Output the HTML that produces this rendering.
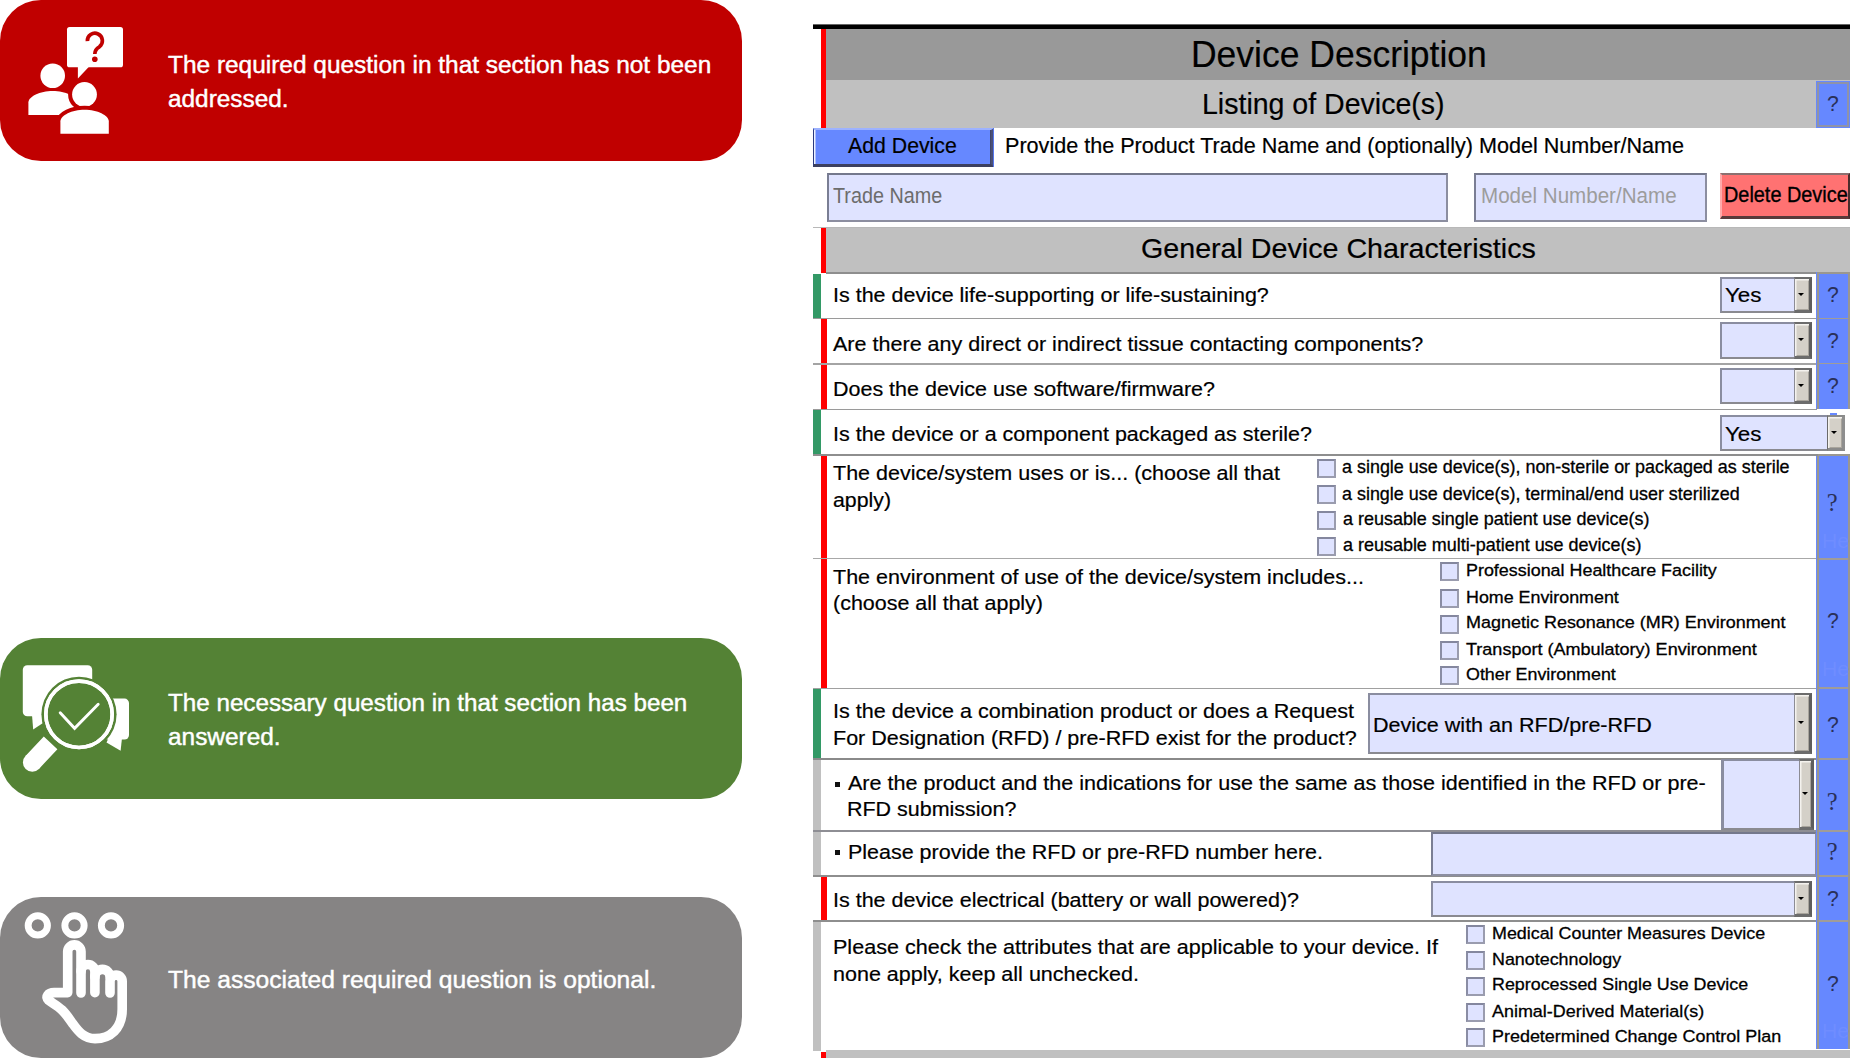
<!DOCTYPE html>
<html><head><meta charset="utf-8"><title>Device Description</title>
<style>
html,body{margin:0;padding:0;background:#fff;}
body{width:1875px;height:1058px;position:relative;overflow:hidden;font-family:"Liberation Sans",sans-serif;}
.a{position:absolute;box-sizing:border-box;}
.t{position:absolute;white-space:pre;line-height:1em;transform-origin:0 50%;}
.box{position:absolute;left:0;width:742px;border-radius:41px;}
.fld{position:absolute;box-sizing:border-box;background:#dfe3ff;border:2px solid #8c8ea0;border-top-color:#74788c;border-left-color:#7a7e94;}
.dd{position:absolute;box-sizing:border-box;background:#dfe3ff;border:2px solid #8a8a90;border-top-color:#8a8da0;border-left-color:#8a8da0;}
.btn{position:absolute;box-sizing:border-box;top:-2px;bottom:-2px;right:-2px;width:18px;background:#d4d0c8;border-style:solid;border-color:#6c6c6c #5e5e5e #6c6c6c #8c8c94;border-width:2px 3px 3px 1px;box-shadow:inset 1.5px 1.5px 0 #f4f2ee,inset -1px -1px 0 #a8a49c;}
.btn:after{content:"";position:absolute;left:50%;top:50%;margin-left:-3.8px;margin-top:-1.6px;border-left:3.8px solid transparent;border-right:3.8px solid transparent;border-top:3.8px solid #000;}
.cb{position:absolute;box-sizing:border-box;width:19px;height:19px;background:#dfe3ff;border:2px solid #9a9cae;border-top-color:#84879e;border-left-color:#8a8da4;}
.ln{position:absolute;left:813px;width:1003px;height:1px;background:#9a9a9a;}
.q{position:absolute;left:1816px;width:34px;text-align:center;color:#232a52;font-size:21px;line-height:1em;}
.qs{font-family:"Liberation Serif",serif;font-size:24px;}
.hs{position:absolute;left:1819px;width:29px;height:1px;background:#a09c98;}
</style></head>
<body>
<!-- left callouts -->
<div class="box" style="top:0;height:160.5px;background:#c00000"></div>
<div class="box" style="top:637.6px;height:161px;background:#548235"></div>
<div class="box" style="top:897.3px;height:161px;background:#868484"></div>

<svg class="a" style="left:0;top:0" width="760" height="1058" viewBox="0 0 760 1058">
<!-- red icon -->
<g fill="#fff">
 <rect x="67" y="27" width="56" height="40.3" rx="2.6"/>
 <path d="M77.9 66 V78.4 L89.6 66 Z"/>
 <circle cx="52.7" cy="75.7" r="12.3"/>
 <path d="M28.4 115 V102.5 C28.4 96.5 40 91 52.7 91 C65.4 91 77 96.5 77 102.5 V115 Z"/>
 <g stroke="#c00000" stroke-width="8" paint-order="stroke">
  <circle cx="84.5" cy="94.4" r="12.4"/>
  <path d="M60.4 133.8 V121.3 C60.4 115.3 72 109.7 84.6 109.7 C97.2 109.7 108.8 115.3 108.8 121.3 V133.8 Z"/>
 </g>
</g>
<path d="M87.4 41.2 A7.5 7.5 0 1 1 99.4 46.8 Q94.8 49.4 94.8 54" fill="none" stroke="#c00000" stroke-width="3.7"/>
<circle cx="94.8" cy="59.2" r="2.8" fill="#c00000"/>

<!-- green icon -->
<g fill="#fff">
 <rect x="22.8" y="665.2" width="69.4" height="51" rx="4.5"/>
 <path d="M32 715 L33.2 729.6 L46 721 V715 Z"/>
 <rect x="98" y="698.6" width="31" height="41" rx="4.5"/>
 <path d="M106.5 742.5 L120.6 750.8 L122 738 L110 735 Z"/>
</g>
<circle cx="79" cy="714.3" r="37.6" fill="#548235"/>
<circle cx="79" cy="714.3" r="33.2" fill="#548235" stroke="#fff" stroke-width="3.6"/>
<path d="M60.2 712.8 L74.6 728.3 L98.2 704.2" fill="none" stroke="#fff" stroke-width="2.9" stroke-linecap="round" stroke-linejoin="miter"/>
<path d="M50.6 742.8 L36.5 757.9 L32.3 762.4" fill="none" stroke="#fff" stroke-width="18.6" stroke-linecap="butt"/>
<circle cx="32.3" cy="762.4" r="9.4" fill="#fff"/>
<circle cx="79" cy="714.3" r="33.2" fill="none" stroke="#fff" stroke-width="3.6"/>

<!-- gray icon -->
<g fill="none" stroke="#fff">
 <g stroke-width="6.9">
  <circle cx="37.8" cy="925.4" r="9.65"/><circle cx="74.5" cy="925.4" r="9.65"/><circle cx="111" cy="925.4" r="9.65"/>
 </g>
 <g stroke-width="9.6" stroke-linecap="round" stroke-linejoin="round">
  <path d="M81 993 V951.55 A6.55 6.55 0 0 0 67.7 951.55 V992.6 H54 C48 992.6 45 997 48.5 1000.2 C53 1003.5 58 1006 62 1010 C67 1015 70 1020 73 1024 C78 1031 84 1038.6 95 1038.6 C110 1038.6 122.2 1029 122.2 1009 V981.2 A6.1 6.1 0 0 0 110 981.2 V993"/>
  <path d="M81 971.45 A6.95 6.95 0 0 1 94.9 971.45 V992.7"/>
  <path d="M94.9 976.95 A7.55 7.55 0 0 1 110 976.95"/>
 </g>
</g>
</svg>

<!-- form -->
<div class="a" style="left:813px;top:24px;width:1037px;height:5px;background:#000;border-top:1px solid #666"></div>
<div class="a" style="left:826px;top:29px;width:1024px;height:52px;background:#999999"></div>
<div class="a" style="left:826px;top:80px;width:1024px;height:48px;background:#c0c0c0"></div>
<div class="a" style="left:821px;top:29px;width:5px;height:99px;background:#ff0000"></div>
<!-- help btn header -->
<div class="a" style="left:1816px;top:81px;width:34px;height:47px;background:#6688ff;border:1px solid #6688ff;box-shadow:inset 0 0 0 2px #8f93a8"></div>

<!-- add device -->
<div class="a" style="left:813px;top:128px;width:181px;height:39px;background:#6688ff;border-style:solid;border-width:2px 3px 3px 1px;border-color:#9db2ff #4a5078 #3c4060 #2a3a80;box-shadow:inset 1.5px 0 0 #eef2ff,inset -1px 0 0 #40466a"></div><div class="a" style="left:993px;top:128px;width:1px;height:39px;background:#5577ee"></div>
<div class="fld" style="left:827px;top:173px;width:621px;height:49px"></div>
<div class="fld" style="left:1474px;top:173px;width:233px;height:49px"></div>
<div class="a" style="left:1720px;top:173px;width:130px;height:46px;background:#ff7272;border-style:solid;border-width:2px 2px 3px 2px;border-color:#8c7070 #4a2c2c #5a3a3a #ffaaaa"></div>

<div class="a" style="left:813px;top:227px;width:1037px;height:1px;background:#b8b8b8"></div>
<div class="a" style="left:826px;top:228px;width:1024px;height:46px;background:#c0c0c0;border-bottom:2px solid #8e8e8e"></div>
<div class="a" style="left:821px;top:228px;width:5px;height:45px;background:#ff0000"></div>

<!-- left status bars -->
<div class="a" style="left:813px;top:274px;width:8px;height:45px;background:#339966"></div>
<div class="a" style="left:821px;top:319px;width:6px;height:136px;background:#ff0000"></div>
<div class="a" style="left:813px;top:409px;width:8px;height:46px;background:#339966"></div>
<div class="a" style="left:821px;top:409px;width:6px;height:46px;background:#fff"></div>
<div class="a" style="left:821px;top:455px;width:6px;height:233px;background:#ff0000"></div>
<div class="a" style="left:813px;top:688px;width:8px;height:71px;background:#339966"></div>
<div class="a" style="left:813px;top:759px;width:8px;height:117px;background:#c0c0c0"></div>
<div class="a" style="left:821px;top:876px;width:6px;height:45px;background:#ff0000"></div>
<div class="a" style="left:813px;top:921px;width:8px;height:130px;background:#c0c0c0"></div>
<div class="a" style="left:826px;top:1050px;width:1024px;height:8px;background:#c0c0c0"></div>
<div class="a" style="left:821px;top:1052px;width:5px;height:6px;background:#ff0000"></div>

<!-- help column -->
<div class="a" style="left:1817px;top:272px;width:33px;height:137px;background:#6688ff;border-left:2px solid #9a9790;border-right:2px solid #9a9790;border-top:2px solid #9a9790;box-shadow:-1px 0 0 #6688ff"></div>
<div class="a" style="left:1817px;top:454px;width:33px;height:595px;background:#6688ff;border-left:2px solid #9a9790;border-right:2px solid #9a9790;border-top:2px solid #9a9790;box-shadow:-1px 0 0 #6688ff"></div>
<div class="a" style="left:1830px;top:413px;width:7px;height:2px;background:#6688ff"></div>

<!-- row lines -->
<div class="ln" style="top:318px"></div>
<div class="ln" style="top:363px;height:2px;background:#a4a4a4"></div>
<div class="ln" style="top:409px;width:1004px"></div>
<div class="ln" style="top:454px;height:2px;width:1005px;background:#8e8e8e"></div>
<div class="ln" style="top:558px;background:#a8a8a8"></div>
<div class="ln" style="top:688px;background:#a0a0a0"></div>
<div class="ln" style="top:758px;height:2px;background:#8a8a8a"></div>
<div class="ln" style="top:830px;height:2px;background:#8e8e94"></div>
<div class="ln" style="top:875px;height:2px;background:#8e8e8e"></div>
<div class="ln" style="top:920px;height:2px;background:#8e8e8e"></div>
<div class="hs" style="top:318px"></div><div class="hs" style="top:363px"></div>
<div class="hs" style="top:558px;height:2px"></div><div class="hs" style="top:687px;height:2px"></div><div class="hs" style="top:758px;height:2px"></div>
<div class="hs" style="top:830px;height:2px"></div><div class="hs" style="top:875px;height:2px"></div><div class="hs" style="top:920px;height:2px"></div>

<!-- dropdowns -->
<div class="dd" style="left:1720px;top:277px;width:92px;height:36px"><div class="btn"></div></div>
<div class="dd" style="left:1720px;top:322px;width:92px;height:37px"><div class="btn"></div></div>
<div class="dd" style="left:1720px;top:368px;width:92px;height:36px"><div class="btn"></div></div>
<div class="dd" style="left:1720px;top:415px;width:125px;height:36px"><div class="btn" style="width:18px;border-color:#8a8a8a #8e8e8e #8a8a8a #6a6a6a"></div></div>
<div class="dd" style="left:1368px;top:693px;width:444px;height:61px"><div class="btn"></div></div>
<div class="dd" style="left:1721px;top:759px;width:93px;height:71px;border-left-width:3px"><div class="btn" style="width:15px"></div></div>
<div class="fld" style="left:1431px;top:832px;width:385px;height:44px;border-width:2px 1px 2px 2px"></div>
<div class="dd" style="left:1431px;top:881px;width:381px;height:36px"><div class="btn"></div></div>

<!-- checkboxes -->
<div class="cb" style="left:1317px;top:459px"></div><div class="cb" style="left:1317px;top:485px"></div><div class="cb" style="left:1317px;top:511px"></div><div class="cb" style="left:1317px;top:536.5px"></div>
<div class="cb" style="left:1439.5px;top:562.4px"></div><div class="cb" style="left:1439.5px;top:588.6px"></div><div class="cb" style="left:1439.5px;top:614.6px"></div><div class="cb" style="left:1439.5px;top:640.6px"></div><div class="cb" style="left:1439.5px;top:666px"></div>
<div class="cb" style="left:1466.4px;top:925px"></div><div class="cb" style="left:1466.4px;top:951px"></div><div class="cb" style="left:1466.4px;top:976.7px"></div><div class="cb" style="left:1466.4px;top:1002.6px"></div><div class="cb" style="left:1466.4px;top:1028px"></div>


<!-- bullets -->
<div class="a" style="left:835px;top:782px;width:5px;height:5px;background:#111"></div>
<div class="a" style="left:835px;top:849.5px;width:5px;height:5px;background:#111"></div>

<span class="t" style="left:168.2px;top:51px;font-size:24.7px;line-height:27px;transform:scaleX(0.9896);color:#fff;font-family:'Liberation Sans', sans-serif;-webkit-text-stroke:0.45px #fff;">The required question in that section has not been</span>
<span class="t" style="left:168.2px;top:85px;font-size:24.7px;line-height:27px;transform:scaleX(0.9873);color:#fff;font-family:'Liberation Sans', sans-serif;-webkit-text-stroke:0.45px #fff;">addressed.</span>
<span class="t" style="left:168.2px;top:689px;font-size:24.7px;line-height:27px;transform:scaleX(0.9803);color:#fff;font-family:'Liberation Sans', sans-serif;-webkit-text-stroke:0.45px #fff;">The necessary question in that section has been</span>
<span class="t" style="left:168.2px;top:723px;font-size:24.7px;line-height:27px;transform:scaleX(0.9885);color:#fff;font-family:'Liberation Sans', sans-serif;-webkit-text-stroke:0.45px #fff;">answered.</span>
<span class="t" style="left:168.2px;top:966px;font-size:24.7px;line-height:27px;transform:scaleX(0.9966);color:#fff;font-family:'Liberation Sans', sans-serif;-webkit-text-stroke:0.45px #fff;">The associated required question is optional.</span>
<span class="t" style="left:1190.5px;top:33px;font-size:37.4px;line-height:42px;transform:scaleX(0.9489);color:#000;font-family:'Liberation Sans', sans-serif;-webkit-text-stroke:0.2px #000;">Device Description</span>
<span class="t" style="left:1201.5px;top:88px;font-size:28.9px;line-height:32px;transform:scaleX(0.9872);color:#000;font-family:'Liberation Sans', sans-serif;-webkit-text-stroke:0.2px #000;">Listing of Device(s)</span>
<span class="t" style="left:1141.2px;top:233px;font-size:27.6px;line-height:31px;transform:scaleX(1.0381);color:#000;font-family:'Liberation Sans', sans-serif;-webkit-text-stroke:0.2px #000;">General Device Characteristics</span>
<span class="t" style="left:848.3px;top:133px;font-size:22.3px;line-height:25px;transform:scaleX(0.9541);color:#000;font-family:'Liberation Sans', sans-serif;-webkit-text-stroke:0.2px #000;">Add Device</span>
<span class="t" style="left:1005.4px;top:134px;font-size:21.45px;line-height:24px;transform:scaleX(1.0069);color:#000;font-family:'Liberation Sans', sans-serif;-webkit-text-stroke:0.2px #000;">Provide the Product Trade Name and (optionally) Model Number/Name</span>
<span class="t" style="left:833.3px;top:183px;font-size:21.6px;line-height:25px;transform:scaleX(0.9160);color:#6c6c6c;font-family:'Liberation Sans', sans-serif;">Trade Name</span>
<span class="t" style="left:1481.0px;top:183px;font-size:21.6px;line-height:25px;transform:scaleX(0.9531);color:#9c9c9c;font-family:'Liberation Sans', sans-serif;">Model Number/Name</span>
<span class="t" style="left:1723.5px;top:183px;font-size:21.5px;line-height:24px;transform:scaleX(0.9242);color:#000;font-family:'Liberation Sans', sans-serif;-webkit-text-stroke:0.35px #000;">Delete Device</span>
<span class="t" style="left:833.0px;top:283px;font-size:20.5px;line-height:23px;transform:scaleX(1.0478);color:#000;font-family:'Liberation Sans', sans-serif;-webkit-text-stroke:0.2px #000;">Is the device life-supporting or life-sustaining?</span>
<span class="t" style="left:832.5px;top:332px;font-size:20.5px;line-height:23px;transform:scaleX(1.0508);color:#000;font-family:'Liberation Sans', sans-serif;-webkit-text-stroke:0.2px #000;">Are there any direct or indirect tissue contacting components?</span>
<span class="t" style="left:833.0px;top:377px;font-size:20.5px;line-height:23px;transform:scaleX(1.0477);color:#000;font-family:'Liberation Sans', sans-serif;-webkit-text-stroke:0.2px #000;">Does the device use software/firmware?</span>
<span class="t" style="left:833.0px;top:422px;font-size:20.5px;line-height:23px;transform:scaleX(1.0482);color:#000;font-family:'Liberation Sans', sans-serif;-webkit-text-stroke:0.2px #000;">Is the device or a component packaged as sterile?</span>
<span class="t" style="left:833.0px;top:461px;font-size:20.5px;line-height:23px;transform:scaleX(1.0489);color:#000;font-family:'Liberation Sans', sans-serif;-webkit-text-stroke:0.2px #000;">The device/system uses or is... (choose all that</span>
<span class="t" style="left:833.0px;top:488px;font-size:20.5px;line-height:23px;transform:scaleX(1.0386);color:#000;font-family:'Liberation Sans', sans-serif;-webkit-text-stroke:0.2px #000;">apply)</span>
<span class="t" style="left:833.0px;top:565px;font-size:20.5px;line-height:23px;transform:scaleX(1.0495);color:#000;font-family:'Liberation Sans', sans-serif;-webkit-text-stroke:0.2px #000;">The environment of use of the device/system includes...</span>
<span class="t" style="left:833.0px;top:591px;font-size:20.5px;line-height:23px;transform:scaleX(1.0471);color:#000;font-family:'Liberation Sans', sans-serif;-webkit-text-stroke:0.2px #000;">(choose all that apply)</span>
<span class="t" style="left:833.0px;top:699px;font-size:20.5px;line-height:23px;transform:scaleX(1.0510);color:#000;font-family:'Liberation Sans', sans-serif;-webkit-text-stroke:0.2px #000;">Is the device a combination product or does a Request</span>
<span class="t" style="left:833.0px;top:726px;font-size:20.5px;line-height:23px;transform:scaleX(1.0497);color:#000;font-family:'Liberation Sans', sans-serif;-webkit-text-stroke:0.2px #000;">For Designation (RFD) / pre-RFD exist for the product?</span>
<span class="t" style="left:848.0px;top:771px;font-size:20.5px;line-height:23px;transform:scaleX(1.0513);color:#000;font-family:'Liberation Sans', sans-serif;-webkit-text-stroke:0.2px #000;">Are the product and the indications for use the same as those identified in the RFD or pre-</span>
<span class="t" style="left:846.6px;top:797px;font-size:20.5px;line-height:23px;transform:scaleX(1.0471);color:#000;font-family:'Liberation Sans', sans-serif;-webkit-text-stroke:0.2px #000;">RFD submission?</span>
<span class="t" style="left:848.0px;top:840px;font-size:20.5px;line-height:23px;transform:scaleX(1.0475);color:#000;font-family:'Liberation Sans', sans-serif;-webkit-text-stroke:0.2px #000;">Please provide the RFD or pre-RFD number here.</span>
<span class="t" style="left:833.0px;top:888px;font-size:20.5px;line-height:23px;transform:scaleX(1.0487);color:#000;font-family:'Liberation Sans', sans-serif;-webkit-text-stroke:0.2px #000;">Is the device electrical (battery or wall powered)?</span>
<span class="t" style="left:833.0px;top:935px;font-size:20.5px;line-height:23px;transform:scaleX(1.0513);color:#000;font-family:'Liberation Sans', sans-serif;-webkit-text-stroke:0.2px #000;">Please check the attributes that are applicable to your device. If</span>
<span class="t" style="left:833.0px;top:962px;font-size:20.5px;line-height:23px;transform:scaleX(1.0501);color:#000;font-family:'Liberation Sans', sans-serif;-webkit-text-stroke:0.2px #000;">none apply, keep all unchecked.</span>
<span class="t" style="left:1724.5px;top:284px;font-size:20px;line-height:22px;transform:scaleX(1.1182);color:#000;font-family:'Liberation Sans', sans-serif;-webkit-text-stroke:0.2px #000;">Yes</span>
<span class="t" style="left:1724.5px;top:423px;font-size:20px;line-height:22px;transform:scaleX(1.1182);color:#000;font-family:'Liberation Sans', sans-serif;-webkit-text-stroke:0.2px #000;">Yes</span>
<span class="t" style="left:1373.0px;top:713px;font-size:20.5px;line-height:23px;transform:scaleX(1.0504);color:#000;font-family:'Liberation Sans', sans-serif;-webkit-text-stroke:0.2px #000;">Device with an RFD/pre-RFD</span>
<span class="t" style="left:1342.4px;top:457px;font-size:17.8px;line-height:20px;transform:scaleX(1.0086);color:#000;font-family:'Liberation Sans', sans-serif;-webkit-text-stroke:0.3px #000;">a single use device(s), non-sterile or packaged as sterile</span>
<span class="t" style="left:1341.8px;top:484px;font-size:17.8px;line-height:20px;transform:scaleX(1.0083);color:#000;font-family:'Liberation Sans', sans-serif;-webkit-text-stroke:0.3px #000;">a single use device(s), terminal/end user sterilized</span>
<span class="t" style="left:1342.6px;top:509px;font-size:17.8px;line-height:20px;transform:scaleX(1.0097);color:#000;font-family:'Liberation Sans', sans-serif;-webkit-text-stroke:0.3px #000;">a reusable single patient use device(s)</span>
<span class="t" style="left:1342.6px;top:535px;font-size:17.8px;line-height:20px;transform:scaleX(1.0098);color:#000;font-family:'Liberation Sans', sans-serif;-webkit-text-stroke:0.3px #000;">a reusable multi-patient use device(s)</span>
<span class="t" style="left:1466.2px;top:561px;font-size:16.8px;line-height:19px;transform:scaleX(1.0670);color:#000;font-family:'Liberation Sans', sans-serif;-webkit-text-stroke:0.3px #000;">Professional Healthcare Facility</span>
<span class="t" style="left:1466.2px;top:588px;font-size:16.8px;line-height:19px;transform:scaleX(1.0638);color:#000;font-family:'Liberation Sans', sans-serif;-webkit-text-stroke:0.3px #000;">Home Environment</span>
<span class="t" style="left:1466.2px;top:613px;font-size:16.8px;line-height:19px;transform:scaleX(1.0708);color:#000;font-family:'Liberation Sans', sans-serif;-webkit-text-stroke:0.3px #000;">Magnetic Resonance (MR) Environment</span>
<span class="t" style="left:1466.2px;top:640px;font-size:16.8px;line-height:19px;transform:scaleX(1.0739);color:#000;font-family:'Liberation Sans', sans-serif;-webkit-text-stroke:0.3px #000;">Transport (Ambulatory) Environment</span>
<span class="t" style="left:1466.2px;top:665px;font-size:16.8px;line-height:19px;transform:scaleX(1.0636);color:#000;font-family:'Liberation Sans', sans-serif;-webkit-text-stroke:0.3px #000;">Other Environment</span>
<span class="t" style="left:1491.8px;top:923px;font-size:17.2px;line-height:20px;transform:scaleX(1.0400);color:#000;font-family:'Liberation Sans', sans-serif;-webkit-text-stroke:0.3px #000;">Medical Counter Measures Device</span>
<span class="t" style="left:1491.8px;top:949px;font-size:17.2px;line-height:20px;transform:scaleX(1.0400);color:#000;font-family:'Liberation Sans', sans-serif;-webkit-text-stroke:0.3px #000;">Nanotechnology</span>
<span class="t" style="left:1491.8px;top:974px;font-size:17.2px;line-height:20px;transform:scaleX(1.0394);color:#000;font-family:'Liberation Sans', sans-serif;-webkit-text-stroke:0.3px #000;">Reprocessed Single Use Device</span>
<span class="t" style="left:1491.8px;top:1001px;font-size:17.2px;line-height:20px;transform:scaleX(1.0431);color:#000;font-family:'Liberation Sans', sans-serif;-webkit-text-stroke:0.3px #000;">Animal-Derived Material(s)</span>
<span class="t" style="left:1491.8px;top:1026px;font-size:17.2px;line-height:20px;transform:scaleX(1.0437);color:#000;font-family:'Liberation Sans', sans-serif;-webkit-text-stroke:0.3px #000;">Predetermined Change Control Plan</span>
<span class="t" style="left:1827.1px;top:91px;font-size:21.6px;line-height:25px;transform:scaleX(0.98);color:#2a3058;font-family:'Liberation Sans', sans-serif;">?</span>
<span class="t" style="left:1827.1px;top:282px;font-size:21.6px;line-height:25px;transform:scaleX(0.98);color:#2a3058;font-family:'Liberation Sans', sans-serif;">?</span>
<span class="t" style="left:1827.1px;top:328px;font-size:21.6px;line-height:25px;transform:scaleX(0.98);color:#2a3058;font-family:'Liberation Sans', sans-serif;">?</span>
<span class="t" style="left:1827.1px;top:373px;font-size:21.6px;line-height:25px;transform:scaleX(0.98);color:#2a3058;font-family:'Liberation Sans', sans-serif;">?</span>
<span class="t" style="left:1827.1px;top:608px;font-size:21.6px;line-height:25px;transform:scaleX(0.98);color:#2a3058;font-family:'Liberation Sans', sans-serif;">?</span>
<span class="t" style="left:1827.1px;top:712px;font-size:21.6px;line-height:25px;transform:scaleX(0.98);color:#2a3058;font-family:'Liberation Sans', sans-serif;">?</span>
<span class="t" style="left:1827.1px;top:886px;font-size:21.6px;line-height:25px;transform:scaleX(0.98);color:#2a3058;font-family:'Liberation Sans', sans-serif;">?</span>
<span class="t" style="left:1827.1px;top:971px;font-size:21.6px;line-height:25px;transform:scaleX(0.98);color:#2a3058;font-family:'Liberation Sans', sans-serif;">?</span>
<span class="t" style="left:1826.8px;top:489px;font-size:24.5px;line-height:27px;transform:scaleX(1.0);color:#2a3058;font-family:'Liberation Serif', serif;">?</span>
<span class="t" style="left:1826.8px;top:788px;font-size:24.5px;line-height:27px;transform:scaleX(1.0);color:#2a3058;font-family:'Liberation Serif', serif;">?</span>
<span class="t" style="left:1826.8px;top:838px;font-size:24.5px;line-height:27px;transform:scaleX(1.0);color:#2a3058;font-family:'Liberation Serif', serif;">?</span>
<span class="t" style="left:1822.0px;top:529px;font-size:21px;line-height:23px;transform:scaleX(1.0);color:#6f8dff;font-family:'Liberation Sans', sans-serif;">He</span>
<span class="t" style="left:1822.0px;top:657px;font-size:21px;line-height:23px;transform:scaleX(1.0);color:#6f8dff;font-family:'Liberation Sans', sans-serif;">He</span>
<span class="t" style="left:1822.0px;top:1019px;font-size:21px;line-height:23px;transform:scaleX(1.0);color:#6f8dff;font-family:'Liberation Sans', sans-serif;">He</span>
</body></html>
